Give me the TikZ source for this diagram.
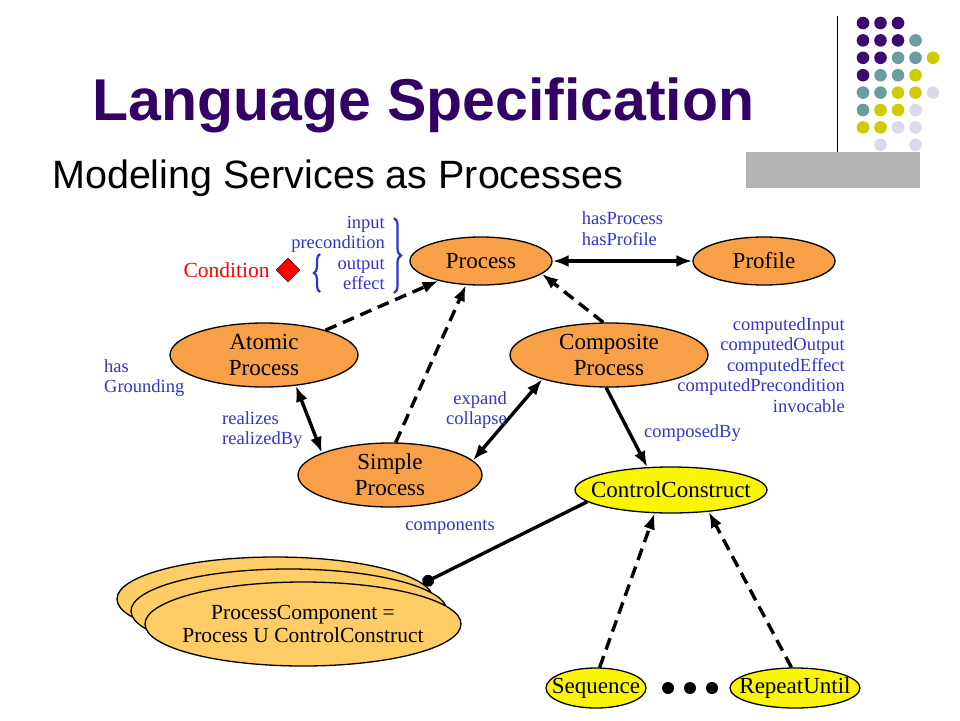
\documentclass[tikz,border=0pt]{standalone}
\usepackage{fontspec}
\setmainfont{Liberation Serif}
\newfontfamily\slidefont{Liberation Sans}
\usetikzlibrary{positioning,shapes.geometric,arrows.meta,decorations.pathreplacing}

\definecolor{titlepurple}{RGB}{51,0,102}
\definecolor{dotpurple}{RGB}{59,10,110}
\definecolor{dotteal}{RGB}{106,158,158}
\definecolor{dotyellow}{RGB}{204,204,0}
\definecolor{dotlilac}{RGB}{218,218,234}
\definecolor{bargray}{RGB}{180,180,180}
\definecolor{procorange}{RGB}{247,160,72}
\definecolor{compyellow}{RGB}{255,204,102}
\definecolor{ctrlyellow}{RGB}{250,245,0}
\definecolor{labelblue}{RGB}{51,51,204}

\tikzset{
  procnode/.style={ellipse, draw, line width=1.3pt, fill=procorange, inner xsep=0pt,
    inner ysep=-5pt, align=center, font=\fontsize{23}{26}\selectfont},
  ctrlnode/.style={procnode, fill=ctrlyellow, inner ysep=0pt},
  compnode/.style={procnode, fill=compyellow, minimum width=316pt, minimum height=84pt,
    inner xsep=-18pt, inner ysep=0pt, font=\fontsize{21.5}{23}\selectfont},
  rellabel/.style={text=labelblue, inner sep=0pt, font=\fontsize{18.5}{20.5}\selectfont},
  hasarrow/.style={line width=3.4pt, -{Latex[length=16pt,width=12pt]}},
  twoway/.style={line width=3.4pt, {Latex[length=16pt,width=12pt]}-{Latex[length=16pt,width=12pt]}},
  subclass/.style={hasarrow, dash pattern=on 12pt off 7pt},
  bracemark/.style={labelblue, line width=2.2pt, decorate}
}

\begin{document}
\begin{tikzpicture}[x=1pt, y=-1pt]
  \useasboundingbox (0,0) rectangle (960,720);

  \node [anchor=base west, inner sep=0pt, text=titlepurple,
    font=\slidefont\bfseries\fontsize{59}{64}\selectfont] (title) at (92,120) {Language Specification};
  \node [anchor=base west, inner sep=0pt,
    font=\slidefont\fontsize{39.5}{44}\selectfont] (subtitle) at (52,188) {Modeling Services as Processes};

  \draw (837,16) -- (837,152);
  \fill [bargray] (746,152) rectangle (920,188);
  \foreach \cols [count=\r from 0] in {
      {dotpurple,dotpurple,dotpurple},
      {dotpurple,dotpurple,dotpurple,dotteal},
      {dotpurple,dotpurple,dotteal,dotteal,dotyellow},
      {dotpurple,dotteal,dotteal,dotyellow},
      {dotteal,dotteal,dotyellow,dotyellow,dotlilac},
      {dotteal,dotyellow,dotyellow,dotlilac},
      {dotyellow,dotyellow,dotlilac,dotlilac},
      {white,dotlilac,white,dotlilac}}
    \foreach \c [count=\k from 0] in \cols
      \fill [\c] (863+17.5*\k, 23+17.4*\r) circle (6.3pt);

  \node [procnode, minimum width=142pt, minimum height=48pt] (proc) at (481,261) {Process};
  \node [procnode, minimum width=142pt, minimum height=48pt] (prof) at (764,261) {Profile};
  \node [procnode, minimum width=188pt, minimum height=64pt] (atomic) at (264,355) {Atomic\\Process};
  \node [procnode, minimum width=198pt, minimum height=64pt] (composite) at (609,355) {Composite\\Process};
  \node [procnode, minimum width=184pt, minimum height=64pt] (simple) at (390,475) {Simple\\Process};
  \node [ctrlnode, minimum width=192pt, minimum height=46pt, inner xsep=-13pt] (cc) at (671,490) {ControlConstruct};
  \node [ctrlnode, minimum width=100pt, minimum height=40pt, inner xsep=-9pt] (seq) at (596,688) {Sequence};
  \node [ctrlnode, minimum width=130pt, minimum height=40pt, inner xsep=-12pt] (rep) at (795,688) {RepeatUntil};
  \node [compnode] (pcA) at (275,599) {};
  \node [compnode] (pcB) at (289,611) {};
  \node [compnode] (pc) at (303,624) {ProcessComponent =\\Process U ControlConstruct};

  \draw [twoway] (proc.east) -- node [rellabel, above=14pt, align=left] (hplabel)
    {hasProcess\\hasProfile} (prof.west);
  \draw [subclass] (atomic.22) -- (proc.205);
  \draw [subclass] (simple.80) -- (proc.238);
  \draw [subclass] (composite.100) -- (proc.348);
  \draw [twoway] (atomic.316) -- (simple.162);
  \draw [twoway] (simple.10) -- (composite.200);
  \draw [hasarrow] (composite.265) -- (cc.136);
  \draw [line width=3.4pt, -{Circle[length=12pt]}] (cc.188) -- (pcA.6);
  \draw [subclass] (seq.80) -- (cc.235);
  \draw [subclass] (rep.100) -- (cc.330);
  \foreach \x in {668,690,712}
    \fill (\x,688) circle (6pt);

  \node [rellabel, align=right, anchor=east] (iolabel) at (385,253) {input\\precondition\\output\\effect};
  \draw [bracemark, decoration={brace, amplitude=7pt}] (394,218) -- (394,293);
  \draw [bracemark, decoration={brace, amplitude=6pt}] (320,292) -- (320,254);
  \node [diamond, draw, fill=red, inner sep=0pt, minimum size=24pt] (condmark) at (288,270) {};
  \node [text=red, inner sep=0pt, font=\fontsize{21.5}{24}\selectfont, left=6pt of condmark] (condlabel) {Condition};
  \node [rellabel, align=left, anchor=west] (grlabel) at (104,378) {has\\Grounding};
  \node [rellabel, align=left, anchor=west] (realabel) at (222,430) {realizes\\realizedBy};
  \node [rellabel, align=right, anchor=east] (exlabel) at (507,410) {expand\\collapse};
  \node [rellabel, align=right, anchor=east] (cmplabel) at (845,365)
    {computedInput\\computedOutput\\computedEffect\\computedPrecondition\\invocable};
  \node [rellabel, anchor=west] (cblabel) at (644,433) {composedBy};
  \node [rellabel] (cplabel) at (450,527) {components};
\end{tikzpicture}
\end{document}
